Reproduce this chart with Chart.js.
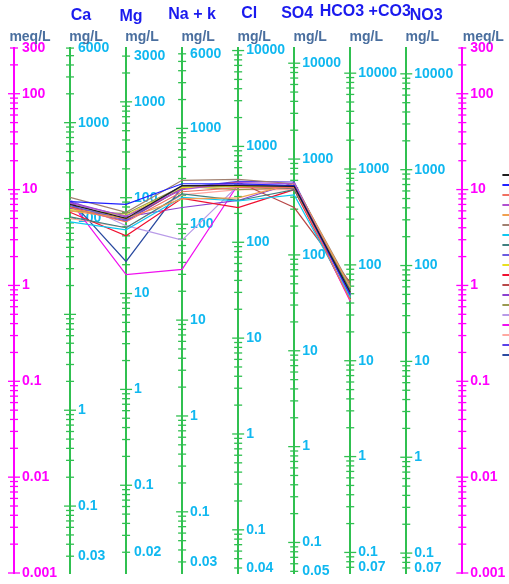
<!DOCTYPE html>
<html>
<head>
<meta charset="utf-8">
<script src="https://cdn.jsdelivr.net/npm/chart.js@4.4.1/dist/chart.umd.min.js"></script>
<style>
  html, body { margin: 0; padding: 0; overflow: hidden; background: #fff; }
  canvas { display: block; }
</style>
</head>
<body>
<canvas id="schoeller" width="526" height="584"></canvas>
<script>
// Schoeller diagram: all samples drawn in meq/L, each ion column has its own mg/L scale
const ions = ['Ca', 'Mg', 'Na + k', 'Cl', 'SO4', 'HCO3 +CO3', 'NO3'];
const eqWeights = [20.04, 12.15, 23.0, 35.45, 48.03, 61.02, 62.0];
const meqMin = 0.001;
const meqMax = 300;

// labelled ticks
const meqLabels = [300, 100, 10, 1, 0.1, 0.01, 0.001];
const caLabels = [6000, 1000, 100, 1, 0.1, 0.03];
const mgLabels = [3000, 1000, 100, 10, 1, 0.1, 0.02];
const naLabels = [6000, 1000, 100, 10, 1, 0.1, 0.03];
const clLabels = [10000, 1000, 100, 10, 1, 0.1, 0.04];
const so4Labels = [10000, 1000, 100, 10, 1, 0.1, 0.05];
const hco3Labels = [10000, 1000, 100, 10, 1, 0.1, 0.07];
const no3Labels = [10000, 1000, 100, 10, 1, 0.1, 0.07];
const ionLabels = [caLabels, mgLabels, naLabels, clLabels, so4Labels, hco3Labels, no3Labels];

// samples in meq/L : Ca, Mg, Na+K, Cl, SO4, HCO3 (no NO3)
const sample01 = [7.0, 5.0, 11.0, 11.0, 10.8, 0.85];
const sample02 = [7.5, 7.0, 11.5, 11.5, 11.0, 0.80];
const sample03 = [6.5, 4.6, 9.5, 10.5, 10.5, 0.70];
const sample04 = [7.2, 5.3, 10.0, 11.8, 11.5, 0.82];
const sample05 = [6.0, 5.0, 8.0, 8.2, 11.5, 0.95];
const sample06 = [8.3, 5.8, 12.5, 12.8, 11.5, 1.00];
const sample07 = [4.6, 3.8, 8.3, 7.6, 8.8, 0.75];
const sample08 = [5.2, 4.0, 9.0, 7.7, 10.0, 0.90];
const sample09 = [6.8, 4.8, 11.0, 11.2, 11.0, 0.78];
const sample10 = [6.2, 5.4, 10.5, 10.8, 11.0, 0.86];
const sample11 = [5.8, 3.3, 8.1, 6.5, 10.0, 0.72];
const sample12 = [6.6, 4.9, 10.2, 12.0, 6.5, 1.07];
const sample13 = [7.4, 5.2, 6.5, 7.7, 11.8, 0.84];
const sample14 = [6.0, 5.6, 10.8, 10.0, 10.5, 0.95];
const sample15 = [7.8, 4.2, 2.97, 11.0, 10.5, 0.80];
const sample16 = [7.6, 1.30, 1.47, 11.3, 10.8, 0.68];
const sample17 = [5.0, 4.0, 8.8, 10.0, 10.0, 0.70];
const sample18 = [6.4, 4.7, 10.4, 12.2, 12.0, 0.88];
const sample19 = [7.8, 1.78, 10.7, 10.8, 10.2, 0.82];
const samples = [sample01, sample02, sample03, sample04, sample05, sample06, sample07,
  sample08, sample09, sample10, sample11, sample12, sample13, sample14, sample15,
  sample16, sample17, sample18, sample19];
const sampleColors = ['#1e1e1e', '#2020ff', '#f07060', '#b050d0', '#f0a050', '#a08070',
  '#10c8f0', '#3f8080', '#6a5ae0', '#e8e020', '#f01030', '#b84848', '#8a40d0',
  '#9a9a50', '#b89ae8', '#f010f0', '#ffa8a0', '#5a40e8', '#2a4aa0'];

const GREEN = '#30c050';
const MAGENTA = '#ff00ff';
const CYAN = '#10b8f0';
// header nudges (px) relative to each column axis
const headerShift = [[11, 16], [5, 17], [10, 15], [11, 14], [3, 14], [15, 12], [20, 16]];

// 1..9 x 10^n ticks inside the range
function logTicks(min, max) {
  const out = [];
  for (let e = Math.floor(Math.log10(min)); e <= Math.ceil(Math.log10(max)); e++) {
    for (let k = 1; k < 10; k++) {
      const v = parseFloat((k * Math.pow(10, e)).toPrecision(6));
      if (v >= min * 0.9999 && v <= max * 1.0001) out.push({ value: v });
    }
  }
  return out;
}

const axisMeta = {};
const scales = {
  x: { type: 'linear', min: 0, max: 8.68, display: false }
};

function addAxis(id, at, factor, labels, color, textColor, unit, unitDx) {
  axisMeta[id] = { at, labels, color, textColor, unit, unitDx };
  scales[id] = {
    type: 'logarithmic',
    axis: 'y',
    position: { x: at },
    min: meqMin * factor,
    max: meqMax * factor,
    ticks: { display: false },
    grid: { display: false },
    border: { display: true, color: color, width: 2 },
    afterBuildTicks: s => { s.ticks = logTicks(s.min, s.max); }
  };
}

addAxis('y', 0, 1, meqLabels, MAGENTA, MAGENTA, 'meq/L', 16);
ions.forEach((ion, i) => addAxis('y' + ion.replace(/\W/g, ''), i + 1, eqWeights[i], ionLabels[i], GREEN, CYAN, 'mg/L', 16));
addAxis('yRight', 8, 1, meqLabels, MAGENTA, MAGENTA, 'meq/L', 21);

const axisDecor = {
  id: 'axisDecor',
  beforeDatasetsDraw(chart) {
    const { ctx } = chart;
    const xs = chart.scales.x;
    Object.keys(axisMeta).forEach(id => {
      const s = chart.scales[id];
      const m = axisMeta[id];
      const x = xs.getPixelForValue(m.at);
      ctx.save();
      ctx.strokeStyle = m.color;
      ctx.lineWidth = 1.3;
      s.ticks.forEach(t => {
        const y = s.getPixelForValue(t.value);
        const lg = Math.log10(t.value);
        const half = Math.abs(lg - Math.round(lg)) < 1e-9 ? 6 : 4;
        ctx.beginPath();
        ctx.moveTo(x - half, y);
        ctx.lineTo(x + half, y);
        ctx.stroke();
      });
      ctx.fillStyle = m.textColor;
      ctx.font = 'bold 14px "Liberation Sans", Arial, sans-serif';
      ctx.textAlign = 'left';
      ctx.textBaseline = 'middle';
      m.labels.forEach(v => ctx.fillText(String(v), x + 8, s.getPixelForValue(v)));
      // unit above the axis
      ctx.fillStyle = '#4a6f9f';
      ctx.textAlign = 'center';
      ctx.fillText(m.unit, x + m.unitDx, 37);
      ctx.restore();
    });
    // ion headers
    ctx.save();
    ctx.fillStyle = '#1a1aee';
    ctx.font = 'bold 16px "Liberation Sans", Arial, sans-serif';
    ctx.textAlign = 'center';
    ctx.textBaseline = 'middle';
    ions.forEach((ion, i) => ctx.fillText(ion, xs.getPixelForValue(i + 1) + headerShift[i][0], headerShift[i][1]));
    ctx.restore();
  }
};

const datasets = samples.map((vals, i) => ({
  label: '',
  data: vals.map((v, j) => ({ x: j + 1, y: v })),
  borderColor: sampleColors[i],
  backgroundColor: sampleColors[i],
  borderWidth: 1.2,
  pointRadius: 0,
  tension: 0,
  fill: false
}));

new Chart(document.getElementById('schoeller'), {
  type: 'line',
  data: { datasets: datasets },
  options: {
    responsive: false,
    animation: false,
    events: [],
    layout: { padding: { left: 14, top: 48, bottom: 11, right: 0 } },
    scales: scales,
    plugins: {
      tooltip: { enabled: false },
      legend: {
        position: 'right',
        align: 'start',
        fullSize: false,
        title: { display: true, text: '', font: { size: 10 }, padding: { top: 109, bottom: 0 } },
        labels: {
          boxWidth: 12,
          boxHeight: 2,
          padding: 2,
          font: { size: 8 },
          generateLabels: chart => Chart.defaults.plugins.legend.labels.generateLabels(chart)
            .map(item => Object.assign(item, { lineWidth: 0 }))
        }
      }
    }
  },
  plugins: [axisDecor]
});
</script>
</body>
</html>
